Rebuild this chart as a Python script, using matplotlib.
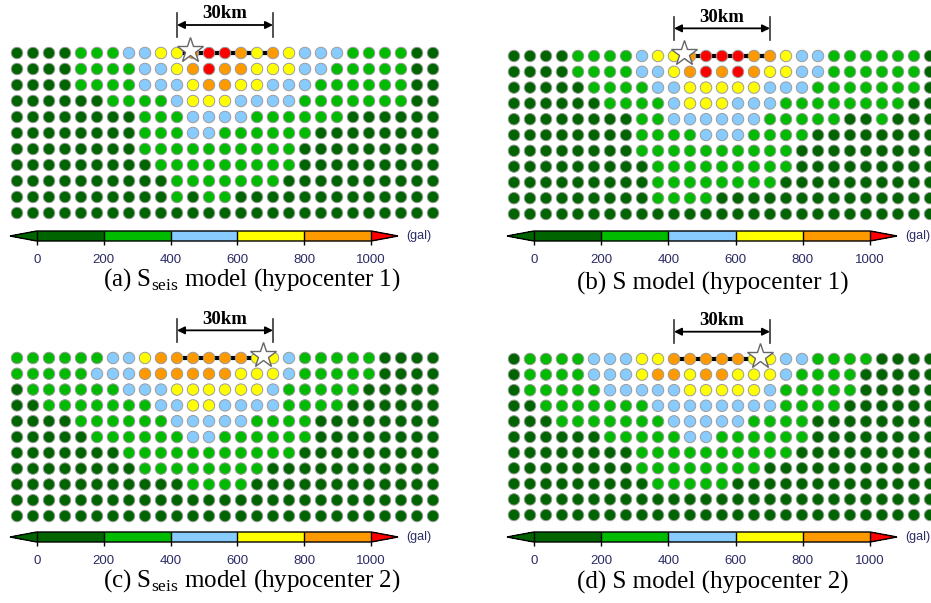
import numpy as np
import matplotlib.pyplot as plt
from matplotlib.colors import ListedColormap, BoundaryNorm
from matplotlib.cm import ScalarMappable

plt.rcParams['font.family'] = 'Liberation Sans'
plt.rcParams['mathtext.fontset'] = 'custom'
plt.rcParams['mathtext.rm'] = 'Liberation Serif'

W, H = 931, 603

# --- colour classes (gal) ---
# 0: <200, 1: 200-400, 2: 400-600, 3: 600-800, 4: 800-1000, 5: >1000
bounds = [0, 200, 400, 600, 800, 1000]
class_value = [100, 300, 500, 700, 900, 1100]
class_colors = ['#006400', '#00bb00', '#88ccff', '#ffff00', '#ff9900']
under_color = '#006400'
over_color = '#ff0000'

# --- observed classes, one string per row of stations (27 x 11) ---
grid_a = [
    "000011122334554343222111100",
    "000011112234544333221111100",
    "000011112223443322211111100",
    "000000111123332222111111100",
    "000000001112222111111000000",
    "000000001112211111100000000",
    "000000001111111111000000000",
    "000000000111111111000000000",
    "000000000011111110000000000",
    "000000000010110000000000000",
    "000000000000000000000000000",
]
grid_b = [
    "000011112334555443221111110",
    "000011112234545433221111110",
    "000001111223333322211111110",
    "000000111123332221111111100",
    "000000001122222211111001000",
    "000000001111222111100000000",
    "000000001111111111000000000",
    "000000000111111111000000000",
    "000000000111111110000000000",
    "000000000111100000000000000",
    "000000000000000000000000000",
]
grid_c = [
    "111111223444444332111110000",
    "111112224444443332111110000",
    "011111122233333321111100000",
    "001111111223322221111000000",
    "000011111122222111100000000",
    "000001111112211111100000000",
    "000000011111111111000000000",
    "000000001111111100000000000",
    "000000000001111000000000000",
    "000000000000000000000000000",
    "000000000000000000000000000",
]
grid_d = [
    "011112223344444332211110000",
    "011112223443443332111100000",
    "011111222223333321111100000",
    "001111111222222221111000000",
    "000111111122222111100000000",
    "000000111112211111100000000",
    "000000001111111111000000000",
    "000000001111111100000000000",
    "000000000111110000000000000",
    "000000000000000000000000000",
    "000000000000000000000000000",
]

captions = [r"(a) S$_{\rm seis}$ model (hypocenter 1)",
            r"(b) S model (hypocenter 1)",
            r"(c) S$_{\rm seis}$ model (hypocenter 2)",
            r"(d) S model (hypocenter 2)"]
star_cols = [10.8, 10.6, 15.4, 15.4]
fault_cols = [(10.3, 16.2), (10.3, 15.7), (10.4, 15.6), (10.2, 15.8)]
scale_cols = (10, 16)
scale_label = "30km"

# panel geometry in pixels: first station x, y and spacing
panels = [
    dict(grid=grid_a, x0=17, y0=53, dx=16, dy=16.0, cb=(10, 398, 236), cap=(252, 280)),
    dict(grid=grid_b, x0=514, y0=56, dx=16, dy=15.8, cb=(507, 897, 236), cap=(713, 283)),
    dict(grid=grid_c, x0=17, y0=358, dx=16, dy=15.8, cb=(10, 398, 537), cap=(252, 581)),
    dict(grid=grid_d, x0=514, y0=359, dx=16, dy=15.6, cb=(507, 897, 537), cap=(713, 582)),
]

cmap = ListedColormap(class_colors).with_extremes(under=under_color, over=over_color)
norm = BoundaryNorm(bounds, len(class_colors))


def px_rect(left, top, width, height):
    return [left / W, 1 - (top + height) / H, width / W, height / H]


fig = plt.figure(figsize=(W / 100, H / 100), dpi=100)

for i, p in enumerate(panels):
    codes = np.array([[int(ch) for ch in row] for row in p['grid']])
    nrow, ncol = codes.shape
    values = np.array(class_value)[codes]
    cols, rows = np.meshgrid(np.arange(ncol), np.arange(nrow))

    ax = fig.add_axes(px_rect(p['x0'] - p['dx'] / 2, p['y0'] - p['dy'] / 2,
                              ncol * p['dx'], nrow * p['dy']))
    ax.set_xlim(-0.5, ncol - 0.5)
    ax.set_ylim(nrow - 0.5, -0.5)
    ax.axis('off')

    # fault trace under the dots
    ax.plot(fault_cols[i], [0, 0], color='black', lw=3, zorder=1,
            solid_capstyle='butt')
    ax.scatter(cols.ravel(), rows.ravel(), c=values.ravel(), cmap=cmap, norm=norm,
               s=68, edgecolors='#9a9a9a', linewidths=0.7, zorder=2)
    ax.plot(star_cols[i], -0.2, marker='*', ms=19, mfc='white', mec='#666666',
            mew=1, zorder=4, clip_on=False)

    # 30 km scale bar
    ax.annotate('', xy=(scale_cols[1], -1.75), xytext=(scale_cols[0], -1.75),
                arrowprops=dict(arrowstyle='<|-|>', color='black', lw=1.3,
                                mutation_scale=11, shrinkA=0, shrinkB=0),
                annotation_clip=False)
    for c in scale_cols:
        ax.plot([c, c], [-2.5, -1.0], color='#333333', lw=1.2, clip_on=False)
    ax.text(sum(scale_cols) / 2, -2.45, scale_label, ha='center', va='center',
            family='Liberation Serif', weight='bold', fontsize=13.5)

    # colour bar
    cb_left, cb_right, cb_y = p['cb']
    cax = fig.add_axes(px_rect(cb_left, cb_y - 5, cb_right - cb_left, 10))
    cb = fig.colorbar(ScalarMappable(norm=norm, cmap=cmap), cax=cax,
                      orientation='horizontal', extend='both', extendfrac=0.08,
                      ticks=bounds, drawedges=True)
    cb.outline.set_linewidth(1)
    cb.dividers.set_linewidth(1)
    cax.tick_params(length=3, width=1, labelsize=9.5, labelcolor='#2b2b66', pad=6)
    fig.text((cb_right + 8) / W, 1 - cb_y / H, '(gal)', fontsize=9,
             color='#2b2b66', va='center', ha='left')

    cx, cy = p['cap']
    fig.text(cx / W, 1 - cy / H, captions[i], ha='center', va='center',
             family='Liberation Serif', fontsize=18)

fig.savefig('out.png', dpi=100)
